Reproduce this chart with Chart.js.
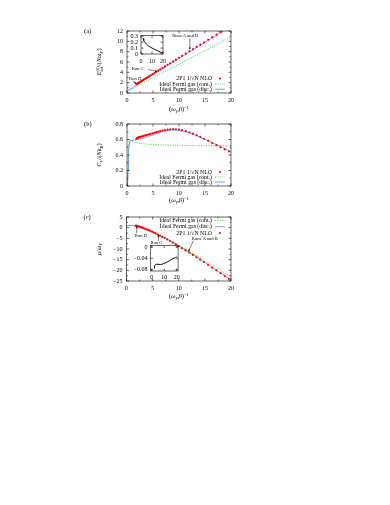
<!DOCTYPE html>
<html><head><meta charset="utf-8">
<script src="https://cdn.jsdelivr.net/npm/chart.js@4.4.1/dist/chart.umd.min.js"></script>
<style>
body{margin:0;background:#fff;width:390px;height:505px;position:relative;overflow:hidden}
canvas{position:absolute}
</style></head><body>
<canvas id="ca" width="180" height="100" style="left:60px;top:20px;width:180px;height:100px"></canvas>
<canvas id="cb" width="180" height="100" style="left:60px;top:113px;width:180px;height:100px"></canvas>
<canvas id="cc" width="180" height="100" style="left:60px;top:206px;width:180px;height:100px"></canvas>
<canvas id="ia" width="55" height="40" style="left:115px;top:29px;width:55px;height:40px"></canvas>
<canvas id="ic" width="63" height="45" style="left:120px;top:239px;width:63px;height:45px"></canvas>
<script>
// 2P1 1/sqrt(N) NLO runs (temperature grid shared by all panels)
const runT = [1.8, 1.9, 2.0, 2.15, 2.3, 2.45, 2.6, 2.8, 3.0, 3.2, 3.45, 3.7, 3.95, 4.25, 4.55, 4.9, 5.25, 5.6, 6.0, 6.4,
  6.85, 7.3, 7.8, 8.3, 8.85, 9.4, 10.0, 10.6, 11.3, 12.0, 12.7, 13.4, 14.1, 14.8, 15.6, 16.4, 17.2, 18.0, 18.8, 19.6];
const runE = [1.72, 1.78, 1.84, 1.93, 2.02, 2.12, 2.21, 2.34, 2.46, 2.58, 2.74, 2.89, 3.05, 3.23, 3.42, 3.64, 3.86, 4.08, 4.33, 4.58,
  4.86, 5.14, 5.45, 5.76, 6.11, 6.45, 6.82, 7.2, 7.63, 8.07, 8.51, 8.94, 9.38, 9.81, 10.31, 10.81, 11.31, 11.8, 12.3, 12.8];
const runCv = [0.61, 0.615, 0.62, 0.625, 0.628, 0.632, 0.635, 0.638, 0.642, 0.646, 0.651, 0.656, 0.661, 0.667, 0.673, 0.68, 0.687, 0.694, 0.701, 0.708,
  0.715, 0.721, 0.727, 0.731, 0.733, 0.732, 0.728, 0.72, 0.708, 0.693, 0.675, 0.655, 0.633, 0.61, 0.583, 0.555, 0.527, 0.5, 0.472, 0.445];
const runMu = [0.95, 0.88, 0.8, 0.7, 0.6, 0.48, 0.36, 0.2, 0.02, -0.17, -0.4, -0.63, -0.88, -1.17, -1.48, -1.88, -2.28, -2.72, -3.2, -3.7,
  -4.28, -4.85, -5.55, -6.25, -7.02, -7.8, -8.7, -9.6, -10.65, -11.7, -12.8, -13.9, -15.0, -16.1, -17.4, -18.7, -20.0, -21.35, -22.7, -24.0];

// ideal Fermi gas, panel (a)
const eT = [0, 1, 2, 3, 4, 5, 6, 7, 8, 9, 10, 11, 12, 13, 14, 15, 16, 17, 18, 19, 20];
const discE = [0.35, 0.95, 1.6, 2.25, 2.9, 3.55, 4.18, 4.8, 5.42, 6.05, 6.68, 7.3, 7.92, 8.55, 9.18, 9.8, 10.42, 11.05, 11.68, 12.3, 12.92];
const contE = [0.3, 0.8, 1.35, 1.9, 2.42, 2.95, 3.48, 4.0, 4.53, 5.05, 5.58, 6.1, 6.63, 7.15, 7.68, 8.2, 8.73, 9.25, 9.78, 10.3, 10.83];

// ideal Fermi gas, panel (b)
const cvT = [0, 0.1, 0.2, 0.3, 0.4, 0.5, 0.7, 1, 1.5, 2, 3, 4, 5, 6, 7, 8, 9, 10, 11, 12, 13, 14, 15, 16, 17, 18, 19, 20];
const discCv = [0, 0.02, 0.2, 0.42, 0.54, 0.575, 0.585, 0.588, 0.592, 0.6, 0.615, 0.637, 0.662, 0.685, 0.705, 0.718, 0.722, 0.718,
  0.705, 0.685, 0.66, 0.632, 0.603, 0.573, 0.541, 0.508, 0.475, 0.44];
const contCv = [0, 0.03, 0.25, 0.46, 0.56, 0.585, 0.585, 0.575, 0.563, 0.555, 0.545, 0.54, 0.536, 0.533, 0.53, 0.528, 0.526, 0.525,
  0.524, 0.523, 0.522, 0.521, 0.52, 0.52, 0.519, 0.519, 0.518, 0.518];

// ideal Fermi gas, panel (c)
const muT = [0, 0.5, 1, 1.5, 2, 3, 4, 5, 6, 7, 8, 9, 10, 11, 12, 13, 14, 15, 16, 17, 18, 19, 20];
const discMu = [0.97, 0.97, 0.96, 0.93, 0.8, 0.0, -0.98, -2.08, -3.2, -4.43, -5.7, -7.05, -8.55, -10.0, -11.55, -13.1, -14.65,
  -16.25, -17.9, -19.55, -21.2, -22.85, -24.5];
const contMu = [1.0, 1.0, 0.98, 0.93, 0.8, 0.05, -0.9, -1.95, -3.05, -4.25, -5.5, -6.8, -8.15, -9.55, -11.0, -12.45, -13.95,
  -15.45, -16.95, -18.5, -20.05, -21.6, -23.2];

// insets
const gapT = [1.8, 2, 2.5, 3, 4, 5, 6, 7, 8, 10, 12, 14, 16, 18, 20];
const gapE = [0.27, 0.255, 0.23, 0.21, 0.185, 0.165, 0.148, 0.135, 0.123, 0.1, 0.08, 0.062, 0.045, 0.03, 0.015];
const gapMuT = [1.8, 2, 2.5, 3, 4, 5, 6, 7, 8, 9, 10, 11, 12, 13, 14, 15, 16, 17, 18, 19, 20];
const gapMu = [-0.075, -0.071, -0.066, -0.063, -0.061, -0.061, -0.062, -0.062, -0.061, -0.06, -0.058, -0.056, -0.054, -0.051,
  -0.049, -0.046, -0.044, -0.041, -0.039, -0.037, -0.035];

const LBL_RUN = '2P1 1/\u221AN NLO', LBL_CONT = 'Ideal Fermi gas (cont.)', LBL_DISC = 'Ideal Fermi gas (disc.)';
const SERIF = '"Liberation Serif"';

const pts = (xs, ys) => xs.map((x, i) => ({ x, y: ys[i] }));
const minus = s => String(s).replace('-', '\u2212');

function rich(ctx, segs, cx, cy, size, rot) {
  const small = size * 0.7;
  const font = s => `${s.i ? 'italic ' : ''}${s.b || s.p ? small : size}px ${SERIF}`;
  const place = [];
  let x = 0, held = 0;
  segs.forEach(s => {
    ctx.font = font(s);
    const w = ctx.measureText(s.t).width;
    place.push({ s, x });
    if (s.k) { held = w; return; }
    x += Math.max(w, held); held = 0;
  });
  ctx.save();
  ctx.translate(cx, cy); ctx.rotate(rot);
  ctx.fillStyle = '#000'; ctx.textAlign = 'left'; ctx.textBaseline = 'alphabetic';
  place.forEach(({ s, x: px }) => {
    ctx.font = font(s);
    const dy = s.b ? size * 0.28 : s.p ? -size * 0.4 : 0;
    ctx.fillText(s.t, px - x / 2, size * 0.33 + dy);
  });
  ctx.restore();
}

function arrow(ctx, x0, y0, x1, y1) {
  const ang = Math.atan2(y1 - y0, x1 - x0), h = 2.2, w = 0.9;
  ctx.beginPath(); ctx.moveTo(x0, y0); ctx.lineTo(x1, y1); ctx.stroke();
  ctx.beginPath();
  ctx.moveTo(x1, y1);
  ctx.lineTo(x1 - h * Math.cos(ang) + w * Math.sin(ang), y1 - h * Math.sin(ang) - w * Math.cos(ang));
  ctx.lineTo(x1 - h * Math.cos(ang) - w * Math.sin(ang), y1 - h * Math.sin(ang) + w * Math.cos(ang));
  ctx.closePath(); ctx.fill();
}

// gnuplot style frame: box, inward ticks on all sides, titles, legend, arrows
const frame = {
  id: 'frame',
  afterDraw(chart, args, o) {
    const { ctx, chartArea: a } = chart;
    const sx = chart.scales.x, sy = chart.scales.y;
    ctx.save();
    ctx.strokeStyle = '#000'; ctx.fillStyle = '#000'; ctx.lineWidth = 0.6;
    const xv = sx.ticks.map(t => t.value), yv = sy.ticks.map(t => t.value);
    const marks = (vals, scale, horiz, len) => vals.forEach(v => {
      const p = scale.getPixelForValue(v);
      if (horiz) { ctx.moveTo(p, a.bottom); ctx.lineTo(p, a.bottom - len); ctx.moveTo(p, a.top); ctx.lineTo(p, a.top + len); }
      else { ctx.moveTo(a.left, p); ctx.lineTo(a.left + len, p); ctx.moveTo(a.right, p); ctx.lineTo(a.right - len, p); }
    });
    ctx.beginPath();
    marks(xv, sx, true, 2.5); marks(yv, sy, false, 2.5);
    if (o.minor) {
      const mids = v => v.slice(1).map((t, i) => (t + v[i]) / 2);
      marks(mids(xv), sx, true, 1.4); marks(mids(yv), sy, false, 1.4);
    }
    ctx.stroke();
    ctx.strokeRect(a.left, a.top, a.right - a.left, a.bottom - a.top);

    if (o.tag) {
      ctx.font = `6.5px ${SERIF}`; ctx.textAlign = 'left'; ctx.textBaseline = 'middle';
      ctx.fillText(o.tag, a.left - 43, a.top + 0.5);
    }
    if (o.xTitle) rich(ctx, o.xTitle, (a.left + a.right) / 2, a.bottom + o.xTitleDy, 6.5, 0);
    if (o.yTitle) rich(ctx, o.yTitle, a.left + o.yTitleDx, (a.top + a.bottom) / 2, 6.5, -Math.PI / 2);

    if (o.legend) {
      const ds = chart.data.datasets;
      o.legend.order.forEach((idx, r) => {
        const d = ds[idx];
        const yy = o.legend.anchor === 'top' ? a.top + o.legend.rows[r] : a.bottom - o.legend.rows[r];
        ctx.font = `5.8px ${SERIF}`; ctx.textAlign = 'right'; ctx.textBaseline = 'middle';
        ctx.fillStyle = '#000';
        ctx.fillText(d.label, a.right - 19, yy);
        if (d.showLine) {
          ctx.save();
          ctx.strokeStyle = d.borderColor; ctx.lineWidth = d.borderWidth; ctx.setLineDash(d.borderDash || []);
          ctx.beginPath(); ctx.moveTo(a.right - 16, yy); ctx.lineTo(a.right - 6, yy); ctx.stroke();
          ctx.restore();
        } else {
          ctx.fillStyle = d.pointBackgroundColor;
          ctx.beginPath(); ctx.arc(a.right - 11, yy, d.pointRadius, 0, Math.PI * 2); ctx.fill();
        }
      });
    }

    (o.notes || []).forEach(n => {
      ctx.fillStyle = '#000'; ctx.strokeStyle = '#000'; ctx.lineWidth = 0.5;
      ctx.font = `4.6px ${SERIF}`; ctx.textAlign = 'left'; ctx.textBaseline = 'middle';
      ctx.fillText(n.t, sx.getPixelForValue(n.x), sy.getPixelForValue(n.y));
      arrow(ctx, sx.getPixelForValue(n.from[0]), sy.getPixelForValue(n.from[1]),
        sx.getPixelForValue(n.to[0]), sy.getPixelForValue(n.to[1]));
    });
    ctx.restore();
  }
};

const tickFont = { family: SERIF, size: 6 };

function axis(range, step, pad, fmt, fit) {
  return {
    type: 'linear', min: range[0], max: range[1],
    grid: { display: false, drawTicks: false }, border: { display: false },
    ticks: { stepSize: step, includeBounds: false, padding: pad, color: '#000', font: tickFont,
      maxRotation: 0, autoSkip: false, callback: fmt },
    afterFit: fit
  };
}

function panel(id, c) {
  return new Chart(document.getElementById(id), {
    type: 'scatter',
    data: { datasets: c.sets },
    options: {
      responsive: false, animation: false, devicePixelRatio: 1, events: [],
      layout: { padding: c.pad },
      plugins: { legend: { display: false }, tooltip: { enabled: false }, frame: c.frame },
      scales: {
        x: axis(c.xr, c.xs, c.xpad, c.xfmt || (v => String(v)), s => { s.height = c.xh; }),
        y: axis(c.yr, c.ys, c.ypad, c.yfmt, s => { s.width = c.yw; })
      }
    },
    plugins: [frame]
  });
}

const runSet = ys => ({ label: LBL_RUN, data: pts(runT, ys), showLine: false, pointRadius: 1.1,
  pointBackgroundColor: '#ff0000', pointBorderWidth: 0, clip: 0 });
const contSet = (xs, ys) => ({ label: LBL_CONT, data: pts(xs, ys), showLine: true, pointRadius: 0,
  borderColor: '#2ed12e', borderWidth: 0.9, borderDash: [1.1, 1.3], clip: 0 });
const discSet = (xs, ys) => ({ label: LBL_DISC, data: pts(xs, ys), showLine: true, pointRadius: 0,
  borderColor: '#7272ff', borderWidth: 0.8, clip: 0 });

const xTitle = [{ t: '(' }, { t: '\u03C9', i: 1 }, { t: 'F', i: 1, b: 1 }, { t: '\u03B2', i: 1 }, { t: ')' }, { t: '\u22121', p: 1 }];

panel('ca', {
  sets: [runSet(runE), contSet(eT, contE), discSet(eT, discE)],
  pad: { left: 0, right: 9, top: 11, bottom: 0 }, xh: 27, yw: 67, xpad: 4, ypad: 4,
  xr: [0, 20], xs: 5, yr: [0, 12], ys: 2, yfmt: v => String(v),
  frame: {
    tag: '(a)', minor: true, xTitle, xTitleDy: 16, yTitleDx: -28,
    yTitle: [{ t: 'E', i: 1 }, { t: 'tot', b: 1, k: 1 }, { t: '(0)', p: 1 }, { t: '/(' }, { t: 'N\u03C9', i: 1 }, { t: 'F', i: 1, b: 1 }, { t: ')' }],
    legend: { anchor: 'bottom', rows: [14.5, 9, 3.8], order: [0, 1, 2] },
    notes: [
      { t: 'Runs A and B', x: 8.7, y: 11.0, from: [12.1, 10.5], to: [12.1, 8.4] },
      { t: 'Run C', x: 0.9, y: 4.6, from: [4.1, 4.55], to: [5.8, 4.15] },
      { t: 'Run D', x: 0.4, y: 2.75, from: [1.15, 2.35], to: [1.75, 1.8] }
    ]
  }
});

panel('cb', {
  sets: [runSet(runCv), contSet(cvT, contCv), discSet(cvT, discCv)],
  pad: { left: 0, right: 9, top: 11, bottom: 0 }, xh: 27, yw: 67, xpad: 4, ypad: 4,
  xr: [0, 20], xs: 5, yr: [0, 0.8], ys: 0.2, yfmt: v => (v === 0 ? '0' : v.toFixed(1)),
  frame: {
    tag: '(b)', minor: true, xTitle, xTitleDy: 14, yTitleDx: -28,
    yTitle: [{ t: 'C', i: 1 }, { t: 'V', i: 1, b: 1 }, { t: '/(' }, { t: 'Nk', i: 1 }, { t: 'B', b: 1 }, { t: ')' }],
    legend: { anchor: 'bottom', rows: [14, 9, 4], order: [0, 1, 2] }
  }
});

panel('cc', {
  sets: [runSet(runMu), contSet(muT, contMu), discSet(muT, discMu)],
  pad: { left: 0, right: 9, top: 11, bottom: 0 }, xh: 25, yw: 66.5, xpad: 4, ypad: 4,
  xr: [0, 20], xs: 5, yr: [-25, 5], ys: 5, yfmt: minus,
  frame: {
    tag: '(c)', minor: true, xTitle, xTitleDy: 15, yTitleDx: -28,
    yTitle: [{ t: '\u03BC', i: 1 }, { t: '/' }, { t: '\u03C9', i: 1 }, { t: 'F', i: 1, b: 1 }],
    legend: { anchor: 'top', rows: [3.5, 9.8, 16], order: [1, 2, 0] },
    notes: [
      { t: 'Run D', x: 1.6, y: -3.9, from: [1.95, -2.6], to: [1.95, 0.7] },
      { t: 'Run C', x: 4.6, y: -7.2, from: [6.1, -6.3], to: [6.1, -3.4] },
      { t: 'Runs A and B', x: 12.5, y: -5.3, from: [12.8, -6.1], to: [11.85, -11.2] }
    ]
  }
});

const gapSet = (xs, ys) => ({ label: '', data: pts(xs, ys), showLine: true, pointRadius: 0,
  borderColor: '#000', borderWidth: 1, clip: 0 });

panel('ia', {
  sets: [gapSet(gapT, gapE)],
  pad: { left: 0, right: 4.5, top: 4, bottom: 0 }, xh: 15, yw: 26, xpad: 4, ypad: 3,
  xr: [0, 20], xs: 10, yr: [0, 0.31], ys: 0.1, yfmt: v => (v === 0 ? '0' : v.toFixed(1)),
  frame: {}
});

panel('ic', {
  sets: [gapSet(gapMuT, gapMu)],
  pad: { left: 0, right: 4, top: 5, bottom: 0 }, xh: 13, yw: 30.5, xpad: 3, ypad: 3,
  xr: [-1, 21], xs: 10, yr: [-0.085, 0.005], ys: 0.04, yfmt: v => (Math.abs(v) < 1e-9 ? '0' : minus(v.toFixed(2))),
  frame: {}
});
</script>
</body></html>
